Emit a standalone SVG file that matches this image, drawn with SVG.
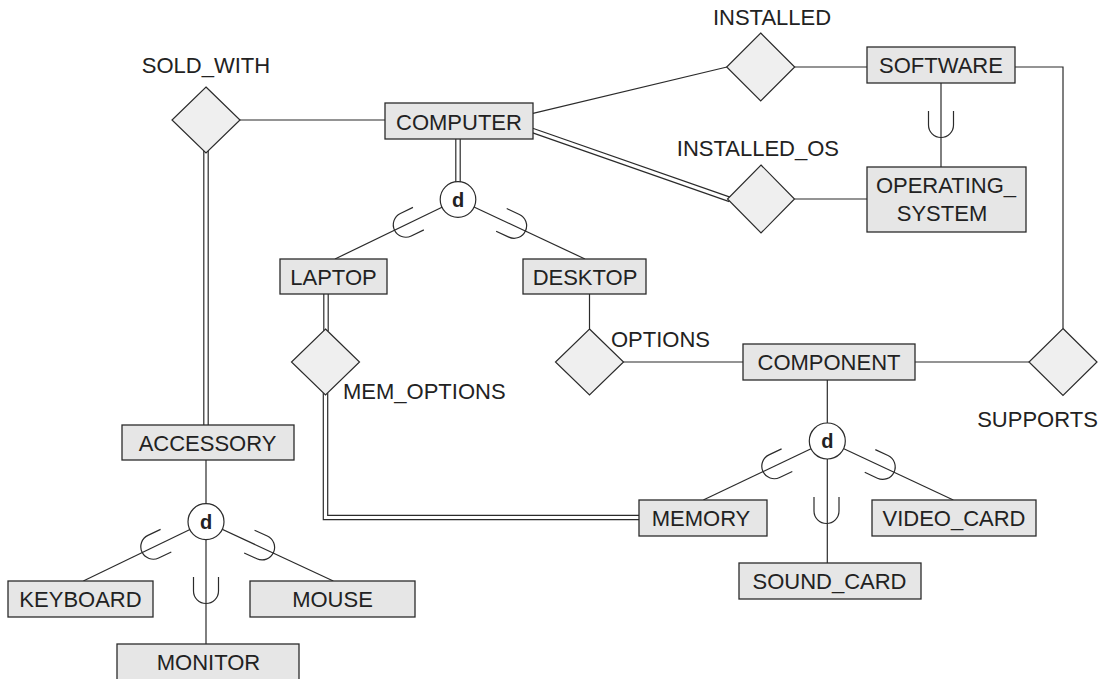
<svg xmlns="http://www.w3.org/2000/svg" width="1102" height="679" viewBox="0 0 1102 679">
<defs>
<style>
.ent{fill:#e6e6e6;stroke:#2b2b2b;stroke-width:1.3}
.rel{fill:#efefef;stroke:#2b2b2b;stroke-width:1.2}
.dc{fill:#fff;stroke:#2b2b2b;stroke-width:1.2}
.ln{fill:none;stroke:#2b2b2b;stroke-width:1.2}
.dbo{fill:none;stroke:#2b2b2b;stroke-width:5.6}
.dbi{fill:none;stroke:#fff;stroke-width:3.2}
.u{fill:none;stroke:#2b2b2b;stroke-width:1.2}
text{font-family:"Liberation Sans",Arial,sans-serif;font-size:22px;fill:#222}
.c{text-anchor:middle}
.d{font-weight:bold;font-size:20px;text-anchor:middle}
</style>
<path id="U" d="M -12.5 -14 V 0 A 12.5 12.5 0 0 0 12.5 0 V -14"/>
</defs>
<rect width="1102" height="679" fill="#fff"/>
<g id="connectors">
<line class="ln" x1="240" y1="120" x2="385" y2="120"/>
<line class="dbo" x1="206" y1="150" x2="206" y2="426"/>
<line class="dbi" x1="206" y1="150" x2="206" y2="426"/>
<line class="ln" x1="206" y1="460" x2="206" y2="521.7"/>
<line class="ln" x1="206" y1="521.7" x2="83.3" y2="581"/>
<line class="ln" x1="206" y1="521.7" x2="333.3" y2="581"/>
<line class="ln" x1="206" y1="521.7" x2="206" y2="644"/>
<line class="dbo" x1="458" y1="138" x2="458" y2="185"/>
<line class="dbi" x1="458" y1="138" x2="458" y2="185"/>
<line class="ln" x1="458" y1="199.5" x2="335" y2="259"/>
<line class="ln" x1="458" y1="199.5" x2="585" y2="259"/>
<line class="ln" x1="533" y1="113.3" x2="727" y2="67"/>
<line class="dbo" x1="532" y1="130.3" x2="730" y2="199.5"/>
<line class="dbi" x1="532" y1="130.3" x2="730" y2="199.5"/>
<line class="ln" x1="794.5" y1="67" x2="867" y2="67"/>
<line class="ln" x1="794.5" y1="199" x2="867" y2="199"/>
<line class="ln" x1="941" y1="83" x2="941" y2="167"/>
<polyline class="ln" points="1015,67 1063,67 1063,328.5"/>
<line class="ln" x1="1029" y1="362" x2="915" y2="362"/>
<line class="ln" x1="743" y1="362" x2="623" y2="362"/>
<line class="ln" x1="589.5" y1="294" x2="589.5" y2="329"/>
<line class="dbo" x1="326" y1="293" x2="326" y2="331"/>
<line class="dbi" x1="326" y1="293" x2="326" y2="331"/>
<polyline class="dbo" points="325.5,393 325.5,517.5 640,517.5"/>
<polyline class="dbi" points="325.5,393 325.5,517.5 640,517.5"/>
<line class="ln" x1="827.3" y1="380" x2="827.3" y2="441"/>
<line class="ln" x1="827.3" y1="441" x2="703.3" y2="500"/>
<line class="ln" x1="827.3" y1="441" x2="953.3" y2="500"/>
<line class="ln" x1="827.3" y1="441" x2="827.3" y2="563"/>
<use href="#U" class="u" transform="translate(405.8,224.7) rotate(64.2)"/>
<use href="#U" class="u" transform="translate(514.1,225.8) rotate(-64.9)"/>
<use href="#U" class="u" transform="translate(153.3,546.7) rotate(64.6)"/>
<use href="#U" class="u" transform="translate(262.1,547.4) rotate(-65.4)"/>
<use href="#U" class="u" transform="translate(206,591)"/>
<use href="#U" class="u" transform="translate(774.3,466.2) rotate(64.6)"/>
<use href="#U" class="u" transform="translate(882.7,466.9) rotate(-64.9)"/>
<use href="#U" class="u" transform="translate(826.5,511)"/>
<use href="#U" class="u" transform="translate(941,125)"/>
</g>
<g id="SOLD_WITH">
<polygon class="rel" points="206,87 240,120 206,153 172,120"/>
<text class="c" x="206" y="73">SOLD_WITH</text>
</g>
<g id="COMPUTER">
<rect class="ent" x="385" y="103" width="148" height="36"/>
<text class="c" x="459" y="129.5">COMPUTER</text>
</g>
<g id="d_computer">
<circle class="dc" cx="458" cy="199.5" r="17.8"/>
<text class="d" x="458" y="206.5">d</text>
</g>
<g id="INSTALLED">
<polygon class="rel" points="760.7,33 794.7,67 760.7,101 726.7,67"/>
<text class="c" x="772" y="25">INSTALLED</text>
</g>
<g id="SOFTWARE">
<rect class="ent" x="867" y="47" width="148" height="36"/>
<text class="c" x="941" y="73">SOFTWARE</text>
</g>
<g id="INSTALLED_OS">
<polygon class="rel" points="761,165 794.5,199 761,233 727.5,199"/>
<text x="839" y="156" text-anchor="end">INSTALLED_OS</text>
</g>
<g id="OPERATING_SYSTEM">
<rect class="ent" x="867" y="167" width="159" height="65"/>
<text class="c" x="946" y="193">OPERATING_</text>
<text class="c" x="942" y="221">SYSTEM</text>
</g>
<g id="LAPTOP">
<rect class="ent" x="280" y="259" width="107" height="35"/>
<text class="c" x="333.5" y="284.5">LAPTOP</text>
</g>
<g id="DESKTOP">
<rect class="ent" x="523" y="259" width="123" height="35"/>
<text class="c" x="585" y="284.5">DESKTOP</text>
</g>
<g id="MEM_OPTIONS">
<polygon class="rel" points="325.5,329 359.5,362 325.5,395 291.5,362"/>
<text x="343" y="399">MEM_OPTIONS</text>
</g>
<g id="OPTIONS">
<polygon class="rel" points="589.5,329 623.5,362 589.5,395 555.5,362"/>
<text x="611" y="347">OPTIONS</text>
</g>
<g id="COMPONENT">
<rect class="ent" x="743" y="344" width="172" height="36"/>
<text class="c" x="829" y="370">COMPONENT</text>
</g>
<g id="SUPPORTS">
<polygon class="rel" points="1063,328.5 1097,362 1063,395.5 1029,362"/>
<text class="c" x="1037.5" y="427">SUPPORTS</text>
</g>
<g id="d_component">
<circle class="dc" cx="827.3" cy="441" r="18"/>
<text class="d" x="827.3" y="448">d</text>
</g>
<g id="MEMORY">
<rect class="ent" x="639" y="500" width="128" height="36"/>
<text class="c" x="701" y="526">MEMORY</text>
</g>
<g id="VIDEO_CARD">
<rect class="ent" x="872" y="500" width="164" height="36"/>
<text class="c" x="954" y="526">VIDEO_CARD</text>
</g>
<g id="SOUND_CARD">
<rect class="ent" x="739" y="563" width="182" height="36"/>
<text class="c" x="829.5" y="589">SOUND_CARD</text>
</g>
<g id="ACCESSORY">
<rect class="ent" x="122" y="425" width="172" height="35"/>
<text class="c" x="207.5" y="450.5">ACCESSORY</text>
</g>
<g id="d_accessory">
<circle class="dc" cx="206" cy="521.7" r="18"/>
<text class="d" x="206" y="528.7">d</text>
</g>
<g id="KEYBOARD">
<rect class="ent" x="8" y="581" width="145" height="36"/>
<text class="c" x="80.5" y="607">KEYBOARD</text>
</g>
<g id="MOUSE">
<rect class="ent" x="250" y="581" width="165" height="36"/>
<text class="c" x="332.5" y="607">MOUSE</text>
</g>
<g id="MONITOR">
<rect class="ent" x="117" y="644" width="182" height="37"/>
<text class="c" x="208.5" y="670">MONITOR</text>
</g>
</svg>
